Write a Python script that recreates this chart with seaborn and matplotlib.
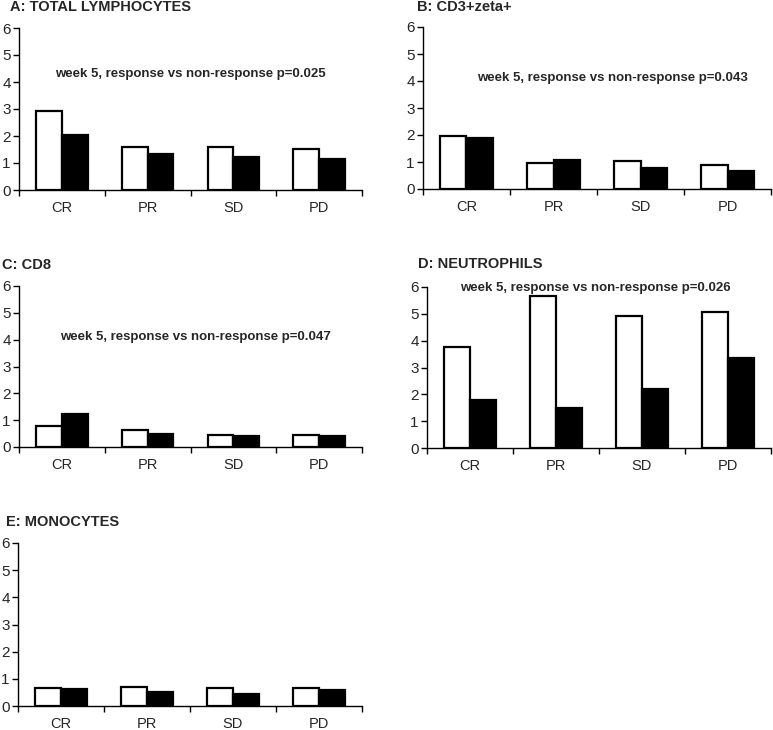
# Lymphocyte subsets by response group, five panels

import pandas as pd
import matplotlib.pyplot as plt
import seaborn as sns

categories = ['CR', 'PR', 'SD', 'PD']
groups = ['baseline', 'week 5']

lymphocytes_base = [2.91, 1.61, 1.61, 1.52]
lymphocytes_wk5 = [2.03, 1.35, 1.21, 1.15]
cd3zeta_base = [1.96, 0.95, 1.03, 0.89]
cd3zeta_wk5 = [1.88, 1.09, 0.78, 0.67]
cd8_base = [0.80, 0.62, 0.43, 0.43]
cd8_wk5 = [1.22, 0.47, 0.41, 0.41]
neutrophils_base = [3.75, 5.68, 4.93, 5.07]
neutrophils_wk5 = [1.78, 1.50, 2.21, 3.37]
monocytes_base = [0.65, 0.70, 0.65, 0.65]
monocytes_wk5 = [0.64, 0.53, 0.45, 0.60]

titles = ['A: TOTAL LYMPHOCYTES', 'B: CD3+zeta+', 'C: CD8', 'D: NEUTROPHILS', 'E: MONOCYTES']
notes = ['week 5, response vs non-response p=0.025',
         'week 5, response vs non-response p=0.043',
         'week 5, response vs non-response p=0.047',
         'week 5, response vs non-response p=0.026',
         None]
panel_data = [
    (lymphocytes_base, lymphocytes_wk5),
    (cd3zeta_base, cd3zeta_wk5),
    (cd8_base, cd8_wk5),
    (neutrophils_base, neutrophils_wk5),
    (monocytes_base, monocytes_wk5),
]

sns.set_style('white')
plt.rcParams['font.family'] = ['Liberation Sans', 'DejaVu Sans']

W, H = 773, 730
fig = plt.figure(figsize=(W / 100, H / 100), dpi=100)

# axes boxes in pixels: left, top, right, bottom
boxes = [(19, 28, 362, 190), (423, 27, 771, 189),
         (19, 286, 362, 447), (427, 287, 771, 448),
         (18, 543, 362, 706)]
title_pos = [(10, 7), (417, 7), (2, 265), (418, 264), (6, 522)]
note_pos = [(1.5, 4.3), (1.68, 4.1), (1.56, 4.1), (1.46, 5.95), None]

for i, (base, wk5) in enumerate(panel_data):
    l, t, r, b = boxes[i]
    ax = fig.add_axes([l / W, 1 - b / H, (r - l) / W, (b - t) / H])
    df = pd.DataFrame({
        'category': categories * 2,
        'group': [groups[0]] * 4 + [groups[1]] * 4,
        'value': base + wk5,
    })
    sns.barplot(data=df, x='category', y='value', hue='group',
                palette=['white', 'black'], edgecolor='black',
                linewidth=1.6, width=0.6, gap=0, legend=False, ax=ax)
    ax.set_ylim(0, 6)
    ax.set_xlim(-0.5, 3.5)
    ax.set_yticks(range(7))
    ax.set_xticks(range(4), categories)
    ax.set_xticks([-0.5, 0.5, 1.5, 2.5, 3.5], minor=True)
    ax.tick_params(axis='x', which='major', length=0, pad=8, labelsize=10.5)
    ax.tick_params(axis='x', which='minor', length=4, width=1, direction='out',
                   bottom=True, color='black')
    ax.tick_params(axis='y', length=4, width=1, direction='out', left=True,
                   pad=2, labelsize=11, color='black')
    ax.set_xlabel('')
    ax.set_ylabel('')
    for side in ['top', 'right']:
        ax.spines[side].set_visible(False)
    for side in ['left', 'bottom']:
        ax.spines[side].set_color('black')
        ax.spines[side].set_linewidth(1)

    tx, ty = title_pos[i]
    fig.text(tx / W, 1 - ty / H, titles[i], fontsize=10.5, fontweight='bold',
             ha='left', va='center')
    if notes[i]:
        nx, ny = note_pos[i]
        ax.text(nx, ny, notes[i], fontsize=9.5, fontweight='bold',
                ha='center', va='center')

plt.savefig('out.png', dpi=100)
